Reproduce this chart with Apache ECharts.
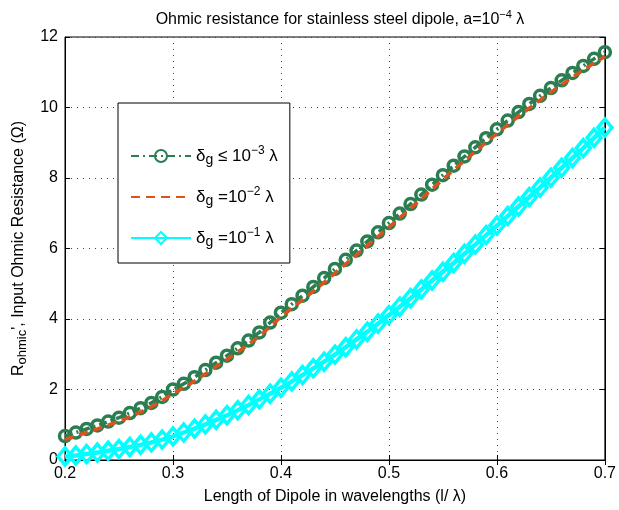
<!DOCTYPE html>
<html>
<head>
<meta charset="utf-8">
<script src="https://cdn.jsdelivr.net/npm/echarts@6/dist/echarts.min.js"></script>
<style>
  html, body { margin: 0; padding: 0; background: #fff; }
  #chart { width: 619px; height: 510px; }
</style>
</head>
<body>
<div id="chart"></div>
<script>
// Dipole length in wavelengths, 0.20 .. 0.70 in steps of 0.01
const lengths = [0.20,0.21,0.22,0.23,0.24,0.25,0.26,0.27,0.28,0.29,
                 0.30,0.31,0.32,0.33,0.34,0.35,0.36,0.37,0.38,0.39,
                 0.40,0.41,0.42,0.43,0.44,0.45,0.46,0.47,0.48,0.49,
                 0.50,0.51,0.52,0.53,0.54,0.55,0.56,0.57,0.58,0.59,
                 0.60,0.61,0.62,0.63,0.64,0.65,0.66,0.67,0.68,0.69,0.70];

// Input ohmic resistance (ohms), gap delta_g <= 1e-3 lambda
const rGap3 = [0.68,0.78,0.88,0.98,1.09,1.20,1.33,1.47,1.62,1.79,
               2.00,2.16,2.35,2.55,2.76,2.96,3.17,3.39,3.62,3.90,
               4.18,4.42,4.66,4.91,5.16,5.42,5.68,5.94,6.20,6.46,
               6.72,6.99,7.26,7.53,7.81,8.08,8.35,8.61,8.87,9.13,
               9.38,9.63,9.87,10.10,10.33,10.55,10.77,10.98,11.18,11.38,11.57];

// delta_g = 1e-2 lambda
const rGap2 = [0.58,0.68,0.78,0.88,0.99,1.10,1.22,1.36,1.51,1.68,
               1.88,2.05,2.24,2.44,2.65,2.85,3.06,3.28,3.51,3.78,
               4.06,4.30,4.54,4.79,5.04,5.30,5.56,5.82,6.08,6.34,
               6.60,6.87,7.14,7.41,7.69,7.96,8.23,8.49,8.75,9.01,
               9.26,9.51,9.75,9.98,10.21,10.43,10.65,10.86,11.06,11.26,11.45];

// delta_g = 1e-1 lambda
const rGap1 = [0.10,0.13,0.17,0.21,0.26,0.31,0.37,0.43,0.50,0.58,
               0.67,0.78,0.89,1.01,1.14,1.27,1.41,1.56,1.72,1.88,
               2.05,2.23,2.41,2.60,2.79,2.99,3.20,3.42,3.64,3.87,
               4.11,4.35,4.59,4.84,5.09,5.34,5.59,5.85,6.11,6.38,
               6.65,6.92,7.19,7.46,7.73,8.01,8.29,8.57,8.85,9.14,9.43];

const xTicks = [0.2, 0.3, 0.4, 0.5, 0.6, 0.7];
const yTicks = [0, 2, 4, 6, 8, 10, 12];

const seriesNames = ['g3', 'g2', 'g1'];
const legendLabels = {
  g3: '{t|δ}{sub|g}{t| ≤ 10}{sup|−3}{t| λ}',
  g2: '{t|δ}{sub|g}{t| =10}{sup|−2}{t| λ}',
  g1: '{t|δ}{sub|g}{t| =10}{sup|−1}{t| λ}'
};

const FONT = '"Liberation Sans", Arial, Helvetica, sans-serif';
const GREEN = '#2b7d52';
const RED = '#d9531a';
const CYAN = '#00ffff';

const pairs = (ys) => lengths.map((x, i) => [x, ys[i]]);

const richBase = {
  t:   { fontFamily: FONT, fontSize: 16, fontWeight: 'normal', color: '#000', lineHeight: 22 },
  sup: { fontFamily: FONT, fontSize: 11, fontWeight: 'normal', color: '#000', lineHeight: 11, verticalAlign: 'top' },
  sub: { fontFamily: FONT, fontSize: 13, fontWeight: 'normal', color: '#000', lineHeight: 13, verticalAlign: 'bottom' }
};

const legendRich = {
  t:   { fontFamily: FONT, fontSize: 17, fontWeight: 'normal', color: '#000', lineHeight: 22 },
  sup: { fontFamily: FONT, fontSize: 12, fontWeight: 'normal', color: '#000', lineHeight: 11, verticalAlign: 'top' },
  sub: { fontFamily: FONT, fontSize: 14, fontWeight: 'normal', color: '#000', lineHeight: 13, verticalAlign: 'bottom' }
};

const gridLine = { show: true, lineStyle: { color: '#444', width: 1, type: [1, 5] } };

const chart = echarts.init(document.getElementById('chart'), null, { renderer: 'canvas' });

chart.setOption({
  animation: false,
  backgroundColor: '#fff',
  title: {
    text: '{t|Ohmic resistance for stainless steel dipole, a=10}{sup|−4}{t| λ}',
    left: 335,
    textAlign: 'center',
    top: 4,
    textStyle: { fontWeight: 'normal', rich: richBase }
  },
  grid: {
    left: 65, right: 14, top: 37, bottom: 48,
    show: true, borderColor: '#000', borderWidth: 1, backgroundColor: 'transparent'
  },
  xAxis: [{
    type: 'value', min: 0.2, max: 0.7, interval: 0.1,
    position: 'bottom',
    name: 'Length of Dipole in wavelengths (l/ λ)',
    nameLocation: 'middle', nameGap: 29,
    nameTextStyle: { fontFamily: FONT, fontSize: 16, color: '#000' },
    axisLine: { show: true, lineStyle: { color: '#000', width: 1 } },
    axisTick: { show: true, inside: true, length: 5, lineStyle: { color: '#000' } },
    axisLabel: {
      fontFamily: FONT, fontSize: 16, color: '#000', margin: 6,
      formatter: (v) => xTicks.includes(Math.round(v * 10) / 10) ? (Math.round(v * 10) / 10).toFixed(1) : ''
    },
    splitLine: gridLine
  }, {
    type: 'value', min: 0.2, max: 0.7, interval: 0.1,
    position: 'top',
    axisLine: { show: true, lineStyle: { color: '#000', width: 1 } },
    axisTick: { show: true, inside: true, length: 5, lineStyle: { color: '#000' } },
    axisLabel: { show: false },
    splitLine: { show: false }
  }],
  yAxis: [{
    type: 'value', min: 0, max: 12, interval: 2,
    position: 'left',
    name: '{t|R}{sub|ohmic}{t|\', Input Ohmic Resistance (Ω)}',
    nameLocation: 'middle', nameGap: 34, nameRotate: 90,
    nameTextStyle: { rich: richBase },
    axisLine: { show: true, lineStyle: { color: '#000', width: 1 } },
    axisTick: { show: true, inside: true, length: 5, lineStyle: { color: '#000' } },
    axisLabel: {
      fontFamily: FONT, fontSize: 16, color: '#000', margin: 7,
      formatter: (v) => yTicks.includes(v) ? String(v) : ''
    },
    splitLine: gridLine
  }, {
    type: 'value', min: 0, max: 12, interval: 2,
    position: 'right',
    axisLine: { show: true, lineStyle: { color: '#000', width: 1 } },
    axisTick: { show: true, inside: true, length: 5, lineStyle: { color: '#000' } },
    axisLabel: { show: false },
    splitLine: { show: false }
  }],
  legend: {
    orient: 'vertical',
    left: 118, top: 103,
    padding: [42, 12, 14, 12],
    itemWidth: 60, itemHeight: 15, itemGap: 19,
    backgroundColor: '#fff',
    borderColor: '#000', borderWidth: 1, borderRadius: 0,
    data: [
      { name: 'g3' },
      { name: 'g2', itemStyle: { opacity: 0 } },
      { name: 'g1' }
    ],
    formatter: (name) => legendLabels[name],
    textStyle: { rich: legendRich }
  },
  series: [{
    name: seriesNames[0],
    type: 'line',
    data: pairs(rGap3),
    symbol: 'circle', symbolSize: 11, showAllSymbol: true,
    lineStyle: { color: GREEN, width: 3.5, type: [8, 4, 2, 4] },
    itemStyle: { color: 'rgba(255,255,255,0)', borderColor: GREEN, borderWidth: 3.5 },
    emphasis: { disabled: true },
    z: 2
  }, {
    name: seriesNames[1],
    type: 'line',
    data: pairs(rGap2),
    symbol: 'none',
    lineStyle: { color: RED, width: 3.5, type: [9, 6] },
    itemStyle: { color: RED },
    emphasis: { disabled: true },
    z: 3
  }, {
    name: seriesNames[2],
    type: 'line',
    data: pairs(rGap1),
    symbol: 'diamond', symbolSize: [14, 17], showAllSymbol: true,
    lineStyle: { color: CYAN, width: 4.5 },
    itemStyle: { color: 'rgba(255,255,255,0)', borderColor: CYAN, borderWidth: 3.5 },
    emphasis: { disabled: true },
    z: 4
  }]
});
</script>
</body>
</html>
